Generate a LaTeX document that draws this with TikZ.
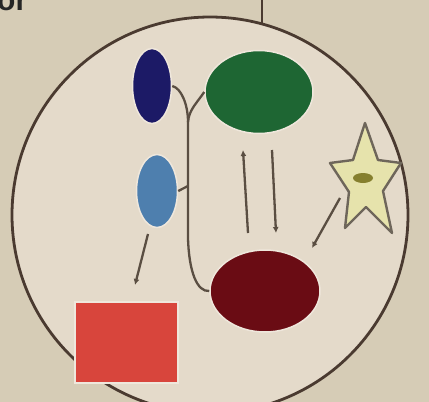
\documentclass[tikz,border=0pt]{standalone}
\usepackage{fontspec}
\setmainfont{Liberation Sans}
\usetikzlibrary{shapes.geometric,arrows.meta}
\definecolor{bgc}{HTML}{D6CCB6}
\definecolor{cellc}{HTML}{E4DACA}
\definecolor{rimc}{HTML}{4A3A30}
\definecolor{linec}{HTML}{5A4E42}
\definecolor{navyc}{HTML}{1C1A66}
\definecolor{greenc}{HTML}{1E6633}
\definecolor{lbluec}{HTML}{4E7FAE}
\definecolor{dredc}{HTML}{6A0C14}
\definecolor{redc}{HTML}{D8453C}
\definecolor{halo}{HTML}{EFE7DC}
\definecolor{starfill}{HTML}{E6E3AC}
\definecolor{starline}{HTML}{6E665A}
\definecolor{blobc}{HTML}{857F2E}
\tikzset{
  blob/.style={ellipse, draw=halo, line width=1.5pt, inner sep=0pt},
  conn/.style={draw=linec, line width=2.3pt},
  arr/.style={conn, -{Latex[length=6pt,width=6pt]}},
}
\begin{document}
\begin{tikzpicture}[x=1pt,y=-1pt]
\useasboundingbox (0,0) rectangle (429,402);
\fill[bgc] (0,0) rectangle (429,402);
% cell
\filldraw[fill=cellc, draw=rimc, line width=2.8pt] (210,215) circle (198);
\coordinate (rimtop) at (262,24);
\coordinate (topedge) at (262,-2);
\draw[draw=rimc, line width=2.6pt] (topedge) -- (rimtop);
% partial title text
\node[anchor=base west, inner sep=0pt, font=\fontsize{30}{30}\selectfont\bfseries, text=black!85] (title) at (-3,10) {or};
% nodes
\node[blob, fill=navyc, minimum width=39pt, minimum height=75pt] (navy) at (152,86) {};
\node[blob, fill=greenc, minimum width=108pt, minimum height=83pt] (green) at (259,92) {};
\node[blob, fill=lbluec, minimum width=41pt, minimum height=73pt] (lblue) at (157,191) {};
\node[blob, fill=dredc, minimum width=110pt, minimum height=82pt] (dred) at (265,291) {};
\node[draw=halo, line width=1.2pt, fill=redc, minimum width=103pt, minimum height=81pt, inner sep=0pt] (redbox) at (126.5,342.5) {};
% star
\filldraw[fill=starfill, draw=starline, line width=2.4pt, line join=round]
  (365,123) -- (378,160) -- (401,163) -- (383,191) -- (392,233) -- (366,207)
  -- (345,228) -- (349,192) -- (330,163) -- (353,160) -- cycle;
\fill[blobc] (363,178) ellipse (10 and 5);
\coordinate (starfoot) at (340,198);
% pathway connectors
\coordinate (join) at (188,122);
\coordinate (bend) at (188,238);
\coordinate (lbjoin) at (188,186);
\draw[conn] (navy.east) .. controls (181,88) and (188,104) .. (join);
\draw[conn] (green.west) .. controls (196,104) and (189,110) .. (join);
\draw[conn] (join) -- (bend) .. controls (189,272) and (197,292) .. (dred.west);
\draw[conn] (lblue.east) -- (lbjoin);
% arrows
\coordinate (gl) at (243,150);
\coordinate (dl) at (248,233);
\coordinate (gr) at (272,150);
\coordinate (dr) at (276,233);
\coordinate (lbfoot) at (148,234);
\coordinate (redtip) at (135,285);
\coordinate (dredtip) at (312,248);
\draw[arr] (dl) -- (gl);
\draw[arr] (gr) -- (dr);
\draw[arr] (lbfoot) -- (redtip);
\draw[arr] (starfoot) -- (dredtip);
\end{tikzpicture}
\end{document}
